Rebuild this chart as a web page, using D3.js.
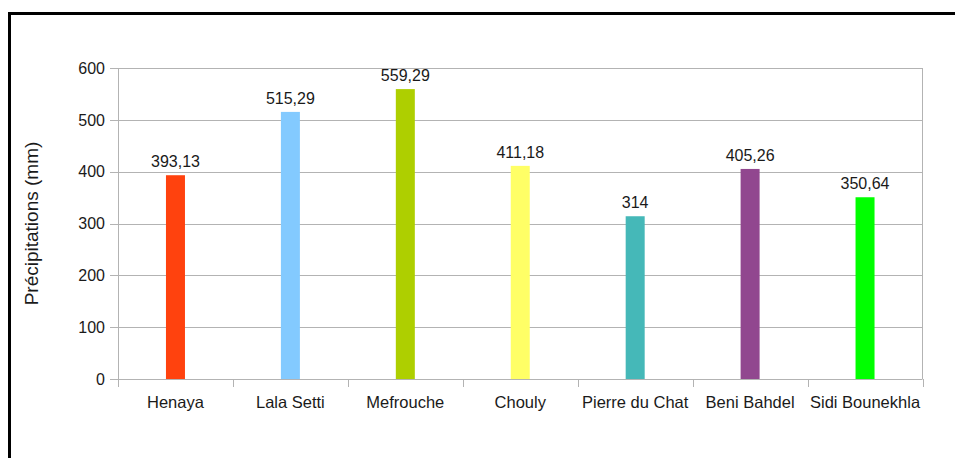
<!DOCTYPE html>
<html lang="fr">
<head>
    <meta charset="UTF-8">
    <title>Précipitations</title>
    <script src="https://cdn.jsdelivr.net/npm/d3@7"></script>
    <style>
        body { margin: 0; background: #fff; }
        text { font-family: "Liberation Sans", Arial, sans-serif; fill: #1a1a1a; }
    </style>
</head>
<body>
<script type="text/javascript">
    var stations = ['Henaya', 'Lala Setti', 'Mefrouche', 'Chouly', 'Pierre du Chat', 'Beni Bahdel', 'Sidi Bounekhla'];
    var pluie = [393.13, 515.29, 559.29, 411.18, 314, 405.26, 350.64];
    var labels = ['393,13', '515,29', '559,29', '411,18', '314', '405,26', '350,64'];
    var couleurs = ['#ff420e', '#83caff', '#aecf00', '#ffff66', '#45b8b8', '#91478f', '#00ff00'];
    var yTicks = [0, 100, 200, 300, 400, 500, 600];

    var width = 955;
    var height = 458;
    var svg = d3.select('body').append('svg')
            .attr('width', width)
            .attr('height', height);

    // cadre noir
    svg.append('rect')
            .attr('x', 9.5)
            .attr('y', 13.5)
            .attr('width', 960)
            .attr('height', 460)
            .attr('fill', 'none')
            .attr('stroke', '#000')
            .attr('stroke-width', 3);

    var gauche = 118, droite = 922.5, haut = 68, bas = 379;

    var x = d3.scaleBand()
            .domain(stations)
            .range([gauche, droite]);
    var y = d3.scaleLinear()
            .domain([0, 600])
            .range([bas, haut]);

    // grille
    svg.selectAll('.grid')
            .data(yTicks)
            .enter()
            .append('line')
            .attr('x1', gauche - 8)
            .attr('x2', droite)
            .attr('y1', function (d) { return Math.round(y(d)) + 0.5; })
            .attr('y2', function (d) { return Math.round(y(d)) + 0.5; })
            .attr('stroke', '#b3b3b3')
            .attr('stroke-width', 1);

    svg.append('line')
            .attr('x1', gauche + 0.5).attr('x2', gauche + 0.5)
            .attr('y1', haut).attr('y2', bas)
            .attr('stroke', '#b3b3b3');
    svg.append('line')
            .attr('x1', droite).attr('x2', droite)
            .attr('y1', haut).attr('y2', bas)
            .attr('stroke', '#b3b3b3');

    // graduations en x
    var bornes = stations.map(function (d) { return x(d); }).concat([droite]);
    svg.selectAll('.xtick')
            .data(bornes)
            .enter()
            .append('line')
            .attr('x1', function (d) { return Math.round(d) + 0.5; })
            .attr('x2', function (d) { return Math.round(d) + 0.5; })
            .attr('y1', bas)
            .attr('y2', bas + 8)
            .attr('stroke', '#b3b3b3');

    svg.selectAll('.ylab')
            .data(yTicks)
            .enter()
            .append('text')
            .attr('x', 105)
            .attr('y', function (d) { return y(d); })
            .attr('dy', '0.36em')
            .attr('text-anchor', 'end')
            .attr('font-size', '16px')
            .text(function (d) { return d; });

    svg.selectAll('.xlab')
            .data(stations)
            .enter()
            .append('text')
            .attr('x', function (d) { return x(d) + x.bandwidth() / 2; })
            .attr('y', 408)
            .attr('text-anchor', 'middle')
            .attr('font-size', '16.5px')
            .text(function (d) { return d; });

    var barW = 19;
    svg.selectAll('.bar')
            .data(pluie)
            .enter()
            .append('rect')
            .attr('x', function (d, i) { return x(stations[i]) + x.bandwidth() / 2 - barW / 2; })
            .attr('y', function (d) { return y(d); })
            .attr('width', barW)
            .attr('height', function (d) { return bas - y(d); })
            .attr('fill', function (d, i) { return couleurs[i]; });

    svg.selectAll('.val')
            .data(pluie)
            .enter()
            .append('text')
            .attr('x', function (d, i) { return x(stations[i]) + x.bandwidth() / 2; })
            .attr('y', function (d) { return y(d) - 8; })
            .attr('text-anchor', 'middle')
            .attr('font-size', '16px')
            .text(function (d, i) { return labels[i]; });

    svg.append('text')
            .attr('transform', 'translate(38,' + ((haut + bas) / 2) + ') rotate(-90)')
            .attr('text-anchor', 'middle')
            .attr('font-size', '19px')
            .text('Précipitations (mm)');
</script>
</body>
</html>
